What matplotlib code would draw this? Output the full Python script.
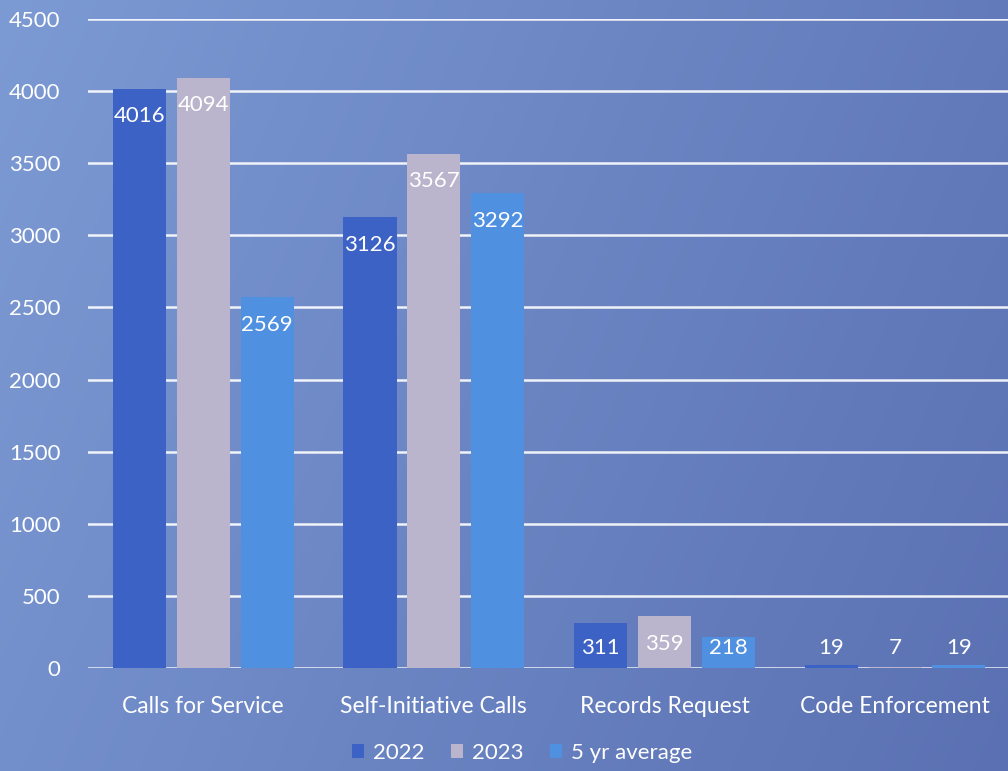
import numpy as np
import matplotlib
matplotlib.use("Agg")
import matplotlib.pyplot as plt
from matplotlib.patches import Patch

categories = ["Calls for Service", "Self-Initiative Calls", "Records Request", "Code Enforcement"]
series_names = ["2022", "2023", "5 yr average"]
vals_2022 = [4016, 3126, 311, 19]
vals_2023 = [4094, 3567, 359, 7]
vals_5yr = [2569, 3292, 218, 19]
yticks = [0, 500, 1000, 1500, 2000, 2500, 3000, 3500, 4000, 4500]

colors = ["#3d62c6", "#bab5cc", "#4f90e0"]

plt.rcParams['font.family'] = ['Lato', 'DejaVu Sans']

fig = plt.figure(figsize=(10.08, 7.71), dpi=100)

# photo-like gradient background
bg = fig.add_axes([0, 0, 1, 1], zorder=0)
xx, yy = np.meshgrid(np.linspace(0, 1, 300), np.linspace(0, 1, 300))
left_col = np.array([124, 154, 212]) / 255.0
right_col = np.array([90, 112, 178]) / 255.0
t = np.clip(0.75 * xx + 0.25 * yy, 0, 1)[..., None]
img = left_col * (1 - t) + right_col * t
bg.imshow(img, extent=[0, 1, 0, 1], aspect='auto', origin='upper')
bg.axis('off')

ax = fig.add_axes([88 / 1008, 103 / 771, 1 - 88 / 1008, 649 / 771], zorder=1)
ax.patch.set_alpha(0)

x = np.arange(len(categories))
w = 0.23
step = 0.277
all_vals = [vals_2022, vals_2023, vals_5yr]
for i, (vals, col) in enumerate(zip(all_vals, colors)):
    pos = x + (i - 1) * step
    ax.bar(pos, vals, width=w, color=col, zorder=3)
    for px, v in zip(pos, vals):
        ax.text(px, max(v - 190, 140), str(v), ha='center', va='center',
                color='white', fontsize=16, zorder=4)

ax.set_ylim(0, 4500)
ax.set_xlim(-0.5, 3.49)
ax.set_yticks(yticks)
ax.set_yticklabels([str(v) for v in yticks], color='white', fontsize=16)
ax.set_xticks(x)
ax.set_xticklabels(categories, color='white', fontsize=16.5)
ax.tick_params(axis='both', length=0)
ax.tick_params(axis='y', pad=20)
ax.tick_params(axis='x', pad=20)
ax.grid(axis='y', color='white', linewidth=1.8, alpha=0.9, zorder=1)
ax.set_axisbelow(True)
for s in ax.spines.values():
    s.set_visible(False)

handles = [Patch(facecolor=c, edgecolor='none') for c in colors]
fig.legend(handles, series_names, loc='center', bbox_to_anchor=(522 / 1008, 1 - 753 / 771),
           ncol=3, frameon=False, fontsize=16, labelcolor='white',
           handlelength=0.55, handleheight=0.55, handletextpad=0.4, columnspacing=1.2)

fig.savefig("out.png", dpi=100)
